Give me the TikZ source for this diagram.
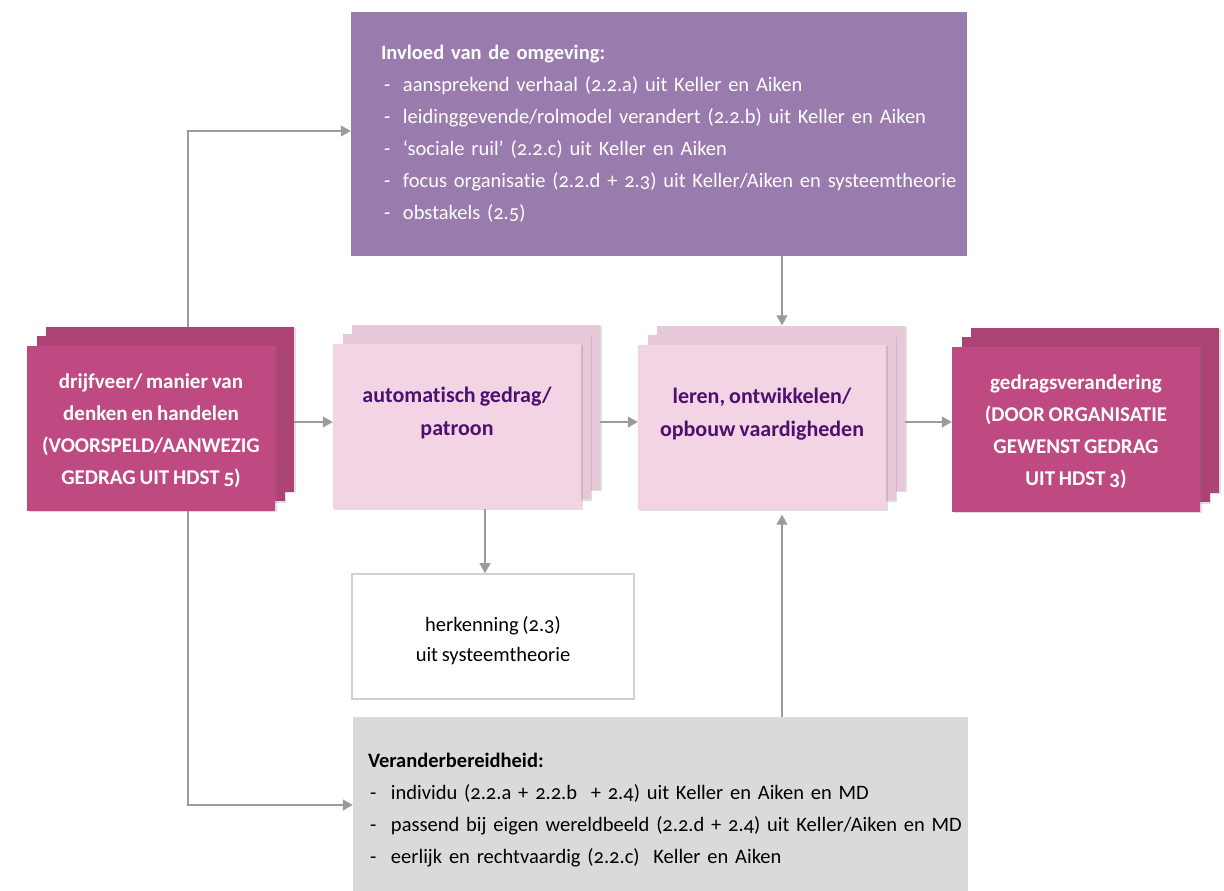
\documentclass[tikz,border=0pt]{standalone}
\usepackage{fontspec}
\setmainfont{Carlito}[Numbers=OldStyle,WordSpace=0.8,Ligatures=NoCommon]
\usetikzlibrary{arrows.meta,positioning,calc,backgrounds,shadows}

\definecolor{rozedonker}{HTML}{BF4A82}
\definecolor{rozeschaduw}{HTML}{AD4274}
\definecolor{rozelicht}{HTML}{F2D4E4}
\definecolor{lichtschaduw}{HTML}{E7C8D9}
\definecolor{paars}{HTML}{9A7BAE}
\definecolor{paarstekst}{HTML}{4C1170}
\definecolor{grijsvlak}{HTML}{D9DADA}
\definecolor{grijsrand}{HTML}{D2D2D2}
\definecolor{pijlgrijs}{HTML}{9B9B9B}

\tikzset{
  laag/.style={minimum width=248pt,minimum height=165pt,inner sep=0pt,
    drop shadow={opacity=0.25,shadow xshift=1.5pt,shadow yshift=-1.5pt}},
  stapeldonker/.style={laag,fill=rozedonker,text=white,font=\bfseries\fontsize{21}{32}\selectfont,align=center},
  stapellicht/.style={laag,fill=rozelicht,text=paarstekst,font=\bfseries\fontsize{22}{33}\selectfont,align=center},
  lijst/.style={inner ysep=0pt,align=left,font=\fontsize{20.5}{32}\selectfont},
  verbinding/.style={draw=pijlgrijs,line width=1.3pt,-{Triangle[length=10pt,width=11pt]}}
}
% streepje voor een opsomming: inspringing en breedte
\newcommand{\streep}[2]{\hspace*{#1}\makebox[#2][l]{-}}

\begin{document}
\begin{tikzpicture}[x=1pt,y=-1pt]
    \useasboundingbox (0,0) rectangle (1224,891);

    % achterste lagen van de stapels
    \foreach \naam/\cx/\cy/\kleur in {drijf/151/428/rozeschaduw,auto/457/426/lichtschaduw,leren/762/427/lichtschaduw,gedrag/1076/429/rozeschaduw} {
      \foreach \i in {2,1} {
        \node[laag,fill=\kleur] (\naam-\i) at (\cx+9.5*\i,\cy-9.5*\i) {};
      }
    }

    % voorste lagen met tekst
    \node[stapeldonker] (drijf) at (151,428) {\rule{0pt}{20pt}drijfveer/ manier van\\denken en handelen\\(VOORSPELD/AANWEZIG\\GEDRAG UIT HDST 5)};
    \node[stapellicht] (auto) at (457,426) {automatisch gedrag/\\patroon\\[-3pt]};
    \node[stapellicht] (leren) at (762,427) {leren, ontwikkelen/\\opbouw vaardigheden\\[-3pt]};
    \node[stapeldonker] (gedrag) at (1076,429) {\rule{0pt}{20pt}gedragsverandering\\(DOOR ORGANISATIE\\GEWENST GEDRAG\\UIT HDST 3)};

    % omgeving bovenaan
    \node[lijst,fill=paars,text=white,minimum width=616pt,minimum height=244pt,text width=616pt,inner xsep=0pt] (invloed) at (659,134)
      {\hspace*{30pt}\textbf{Invloed van de omgeving:}\\
       \streep{33pt}{19pt}aansprekend verhaal (2.2.a) uit Keller en Aiken\\
       \streep{33pt}{19pt}leidinggevende/rolmodel verandert (2.2.b) uit Keller en Aiken\\
       \streep{33pt}{19pt}‘sociale ruil’ (2.2.c) uit Keller en Aiken\\
       \streep{33pt}{19pt}focus organisatie (2.2.d + 2.3) uit Keller/Aiken en systeemtheorie\\
       \streep{33pt}{19pt}obstakels (2.5)};

    % herkenning
    \node[draw=grijsrand,line width=1.6pt,fill=white,minimum width=282pt,minimum height=125pt,align=center,font=\fontsize{20.5}{30}\selectfont] (herkenning) at (493,636.5)
      {\rule{0pt}{24pt}herkenning (2.3)\\uit systeemtheorie};

    % veranderbereidheid onderaan
    \node[lijst,fill=grijsvlak,text=black,minimum width=615pt,minimum height=176pt,text width=615pt,inner xsep=0pt] (bereid) at (660.5,805)
      {\rule{0pt}{25pt}\hspace*{15pt}\textbf{Veranderbereidheid:}\\
       \streep{17pt}{21pt}individu (2.2.a + 2.2.b~ + 2.4) uit Keller en Aiken en MD\\
       \streep{17pt}{21pt}passend bij eigen wereldbeeld (2.2.d + 2.4) uit Keller/Aiken en MD\\
       \streep{17pt}{21pt}eerlijk en rechtvaardig (2.2.c)~ Keller en Aiken};

    % pijlen
    \begin{scope}[on background layer]
      \draw[verbinding] ([xshift=37pt]drijf.north) |- ([yshift=3pt]invloed.west);
      \draw[verbinding] ([xshift=37pt]drijf.south) |- (bereid.west);
    \end{scope}
    \draw[verbinding] (drijf-2.east |- 0,422) -- (auto.west |- 0,422);
    \draw[verbinding] (auto-2.east |- 0,422) -- (leren.west |- 0,422);
    \draw[verbinding] (leren-2.east |- 0,422) -- (gedrag.west |- 0,422);
    \draw[verbinding] (invloed.south -| 782,0) -- (leren-2.north -| 782,0);
    \draw[verbinding] (auto.south -| 485,0) -- (herkenning.north -| 485,0);
    \draw[verbinding] (bereid.north -| 782,0) -- ([yshift=-5pt]leren.south -| 782,0);
\end{tikzpicture}
\end{document}
